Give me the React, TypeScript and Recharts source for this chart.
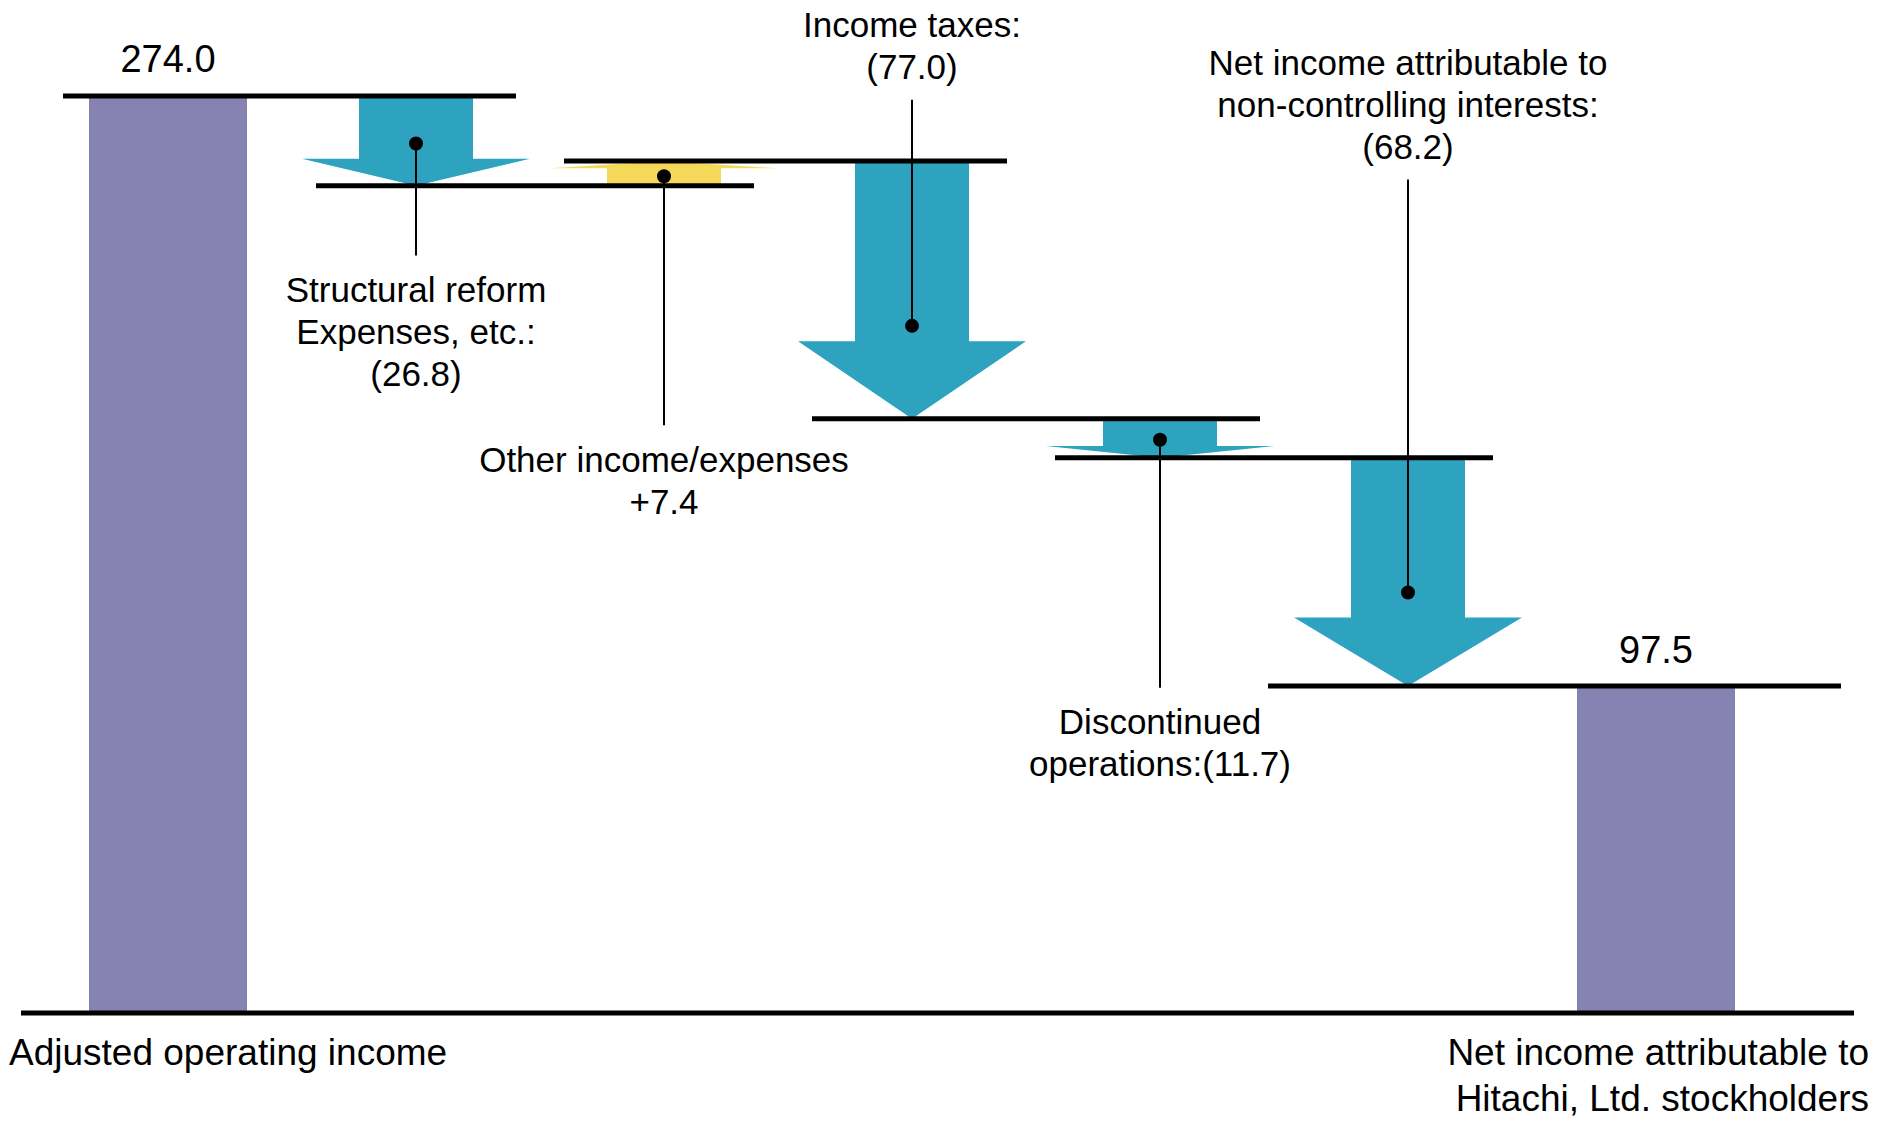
import { Bar, ComposedChart, ReferenceLine, XAxis, YAxis } from "recharts";

// steps of the bridge, left to right
const steps = [
  "Adjusted operating income",
  "Structural reform expenses",
  "Other income/expenses",
  "Income taxes",
  "Discontinued operations",
  "Non-controlling interests",
  "Net income attributable to Hitachi, Ltd. stockholders",
];
const amounts = [274.0, -26.8, 7.4, -77.0, -11.7, -68.2, 97.5];
const isTotal = [true, false, false, false, false, false, true];

const annotations: string[][] = [
  [],
  ["Structural reform", "Expenses, etc.:", "(26.8)"],
  ["Other income/expenses", "+7.4"],
  ["Income taxes:", "(77.0)"],
  ["Discontinued", "operations:(11.7)"],
  ["Net income attributable to", "non-controlling interests:", "(68.2)"],
  [],
];

const tickLabels: string[][] = [
  ["Adjusted operating income"],
  [],
  [],
  [],
  [],
  [],
  ["Net income attributable to", "Hitachi, Ltd. stockholders"],
];

const FONT = '"Liberation Sans", Arial, Helvetica, sans-serif';
const PURPLE = "#8683b3";
const TEAL = "#2ea3c0";
const YELLOW = "#f5d85a";

// where the dot sits on each arrow and how long the leader is (px)
const leaders: ({ side: "above" | "below"; len: number; dot: number } | null)[] = [
  null,
  { side: "below", len: 112, dot: 0.53 },
  { side: "below", len: 249, dot: 0.38 },
  { side: "above", len: 226, dot: 0.64 },
  { side: "below", len: 248, dot: 0.54 },
  { side: "above", len: 413, dot: 0.59 },
  null,
];

// how far each connector overhangs the two step centres (px)
const connectorExt = [
  { left: 105, right: 100 },
  { left: 100, right: 90 },
  { left: 100, right: 95 },
  { left: 100, right: 100 },
  { left: 105, right: 85 },
  { left: 140, right: 185 },
];

interface Row {
  name: string;
  range: [number, number];
  amount: number;
  total: boolean;
  index: number;
}

let running = 0;
const rows: Row[] = steps.map((name, i) => {
  const amount = amounts[i];
  let range: [number, number];
  if (isTotal[i]) {
    range = [0, amount];
    running = amount;
  } else {
    const next = running + amount;
    range = [Math.min(running, next), Math.max(running, next)];
    running = next;
  }
  return { name, range, amount, total: isTotal[i], index: i };
});

// level each step ends at -> the black connector drawn to the next step
const levels = rows.map((r) =>
  r.total ? r.amount : r.amount < 0 ? r.range[0] : r.range[1],
);

function StepShape(props: any) {
  const { x, y, width, height, payload } = props;
  const top = Math.min(y, y + height);
  const bottom = Math.max(y, y + height);
  const cx = x + width / 2;

  if (payload.total) {
    const w = width * (158 / 228);
    return (
      <g>
        <rect x={cx - w / 2} y={top} width={w} height={bottom - top} fill={PURPLE} />
        <text
          x={cx}
          y={top - 37}
          textAnchor="middle"
          dominantBaseline="central"
          fontSize={38}
          fontFamily={FONT}
          fill="#000"
        >
          {payload.amount.toFixed(1)}
        </text>
      </g>
    );
  }

  const L = bottom - top;
  const head = L * 0.3;
  const half = width / 2;
  const shaft = width / 4;
  const down = payload.amount < 0;
  const pts = down
    ? [
        [cx - shaft, top],
        [cx + shaft, top],
        [cx + shaft, bottom - head],
        [cx + half, bottom - head],
        [cx, bottom],
        [cx - half, bottom - head],
        [cx - shaft, bottom - head],
      ]
    : [
        [cx - shaft, bottom],
        [cx + shaft, bottom],
        [cx + shaft, top + head],
        [cx + half, top + head],
        [cx, top],
        [cx - half, top + head],
        [cx - shaft, top + head],
      ];

  const lay = leaders[payload.index]!;
  const dotY = down ? top + lay.dot * L : bottom - lay.dot * L;
  const endY = lay.side === "below" ? dotY + lay.len : dotY - lay.len;
  const lines = annotations[payload.index];

  return (
    <g>
      <polygon points={pts.map((p) => p.join(",")).join(" ")} fill={down ? TEAL : YELLOW} />
      <line x1={cx} y1={dotY} x2={cx} y2={endY} stroke="#000" strokeWidth={2} />
      <circle cx={cx} cy={dotY} r={7} fill="#000" />
      {lines.map((t, k) => (
        <text
          key={k}
          x={cx}
          y={
            lay.side === "below"
              ? endY + 34 + k * 42
              : endY - 33 - (lines.length - 1 - k) * 42
          }
          textAnchor="middle"
          dominantBaseline="central"
          fontSize={35}
          fontFamily={FONT}
          fill="#000"
        >
          {t}
        </text>
      ))}
    </g>
  );
}

function AxisTick(props: any) {
  const { x, y, payload } = props;
  const lines = tickLabels[payload.index] ?? [];
  const first = payload.index === 0;
  return (
    <g>
      {lines.map((t, k) => (
        <text
          key={k}
          x={first ? x - 159 : x + 213}
          y={y + 39 + k * 46}
          textAnchor={first ? "start" : "end"}
          dominantBaseline="central"
          fontSize={37}
          fontFamily={FONT}
          fill="#000"
        >
          {t}
        </text>
      ))}
    </g>
  );
}

function Connector(ext: { left: number; right: number }) {
  return (p: any) => (
    <line
      x1={p.x1 - ext.left}
      y1={p.y1}
      x2={p.x2 + ext.right}
      y2={p.y2}
      stroke="#000"
      strokeWidth={5}
    />
  );
}

export default function App() {
  return (
    <div
      style={{
        position: "absolute",
        left: 0,
        top: 0,
        width: 1877,
        height: 1122,
        background: "#fff",
      }}
    >
      <ComposedChart
        width={1877}
        height={1122}
        data={rows}
        margin={{ top: 9, right: 23, bottom: 0, left: 21 }}
      >
        <XAxis
          dataKey="name"
          interval={0}
          height={109}
          padding={{ left: 23, right: 74 }}
          tickLine={false}
          tickSize={0}
          tickMargin={0}
          axisLine={{ stroke: "#000", strokeWidth: 5 }}
          tick={AxisTick}
        />
        <YAxis hide domain={[0, 300]} />
        <Bar
          dataKey="range"
          barSize={228}
          shape={StepShape}
          isAnimationActive={false}
        />
        {levels.slice(0, -1).map((lv, i) => (
          <ReferenceLine
            key={i}
            segment={[
              { x: steps[i], y: lv },
              { x: steps[i + 1], y: lv },
            ]}
            shape={Connector(connectorExt[i])}
          />
        ))}
      </ComposedChart>
    </div>
  );
}
